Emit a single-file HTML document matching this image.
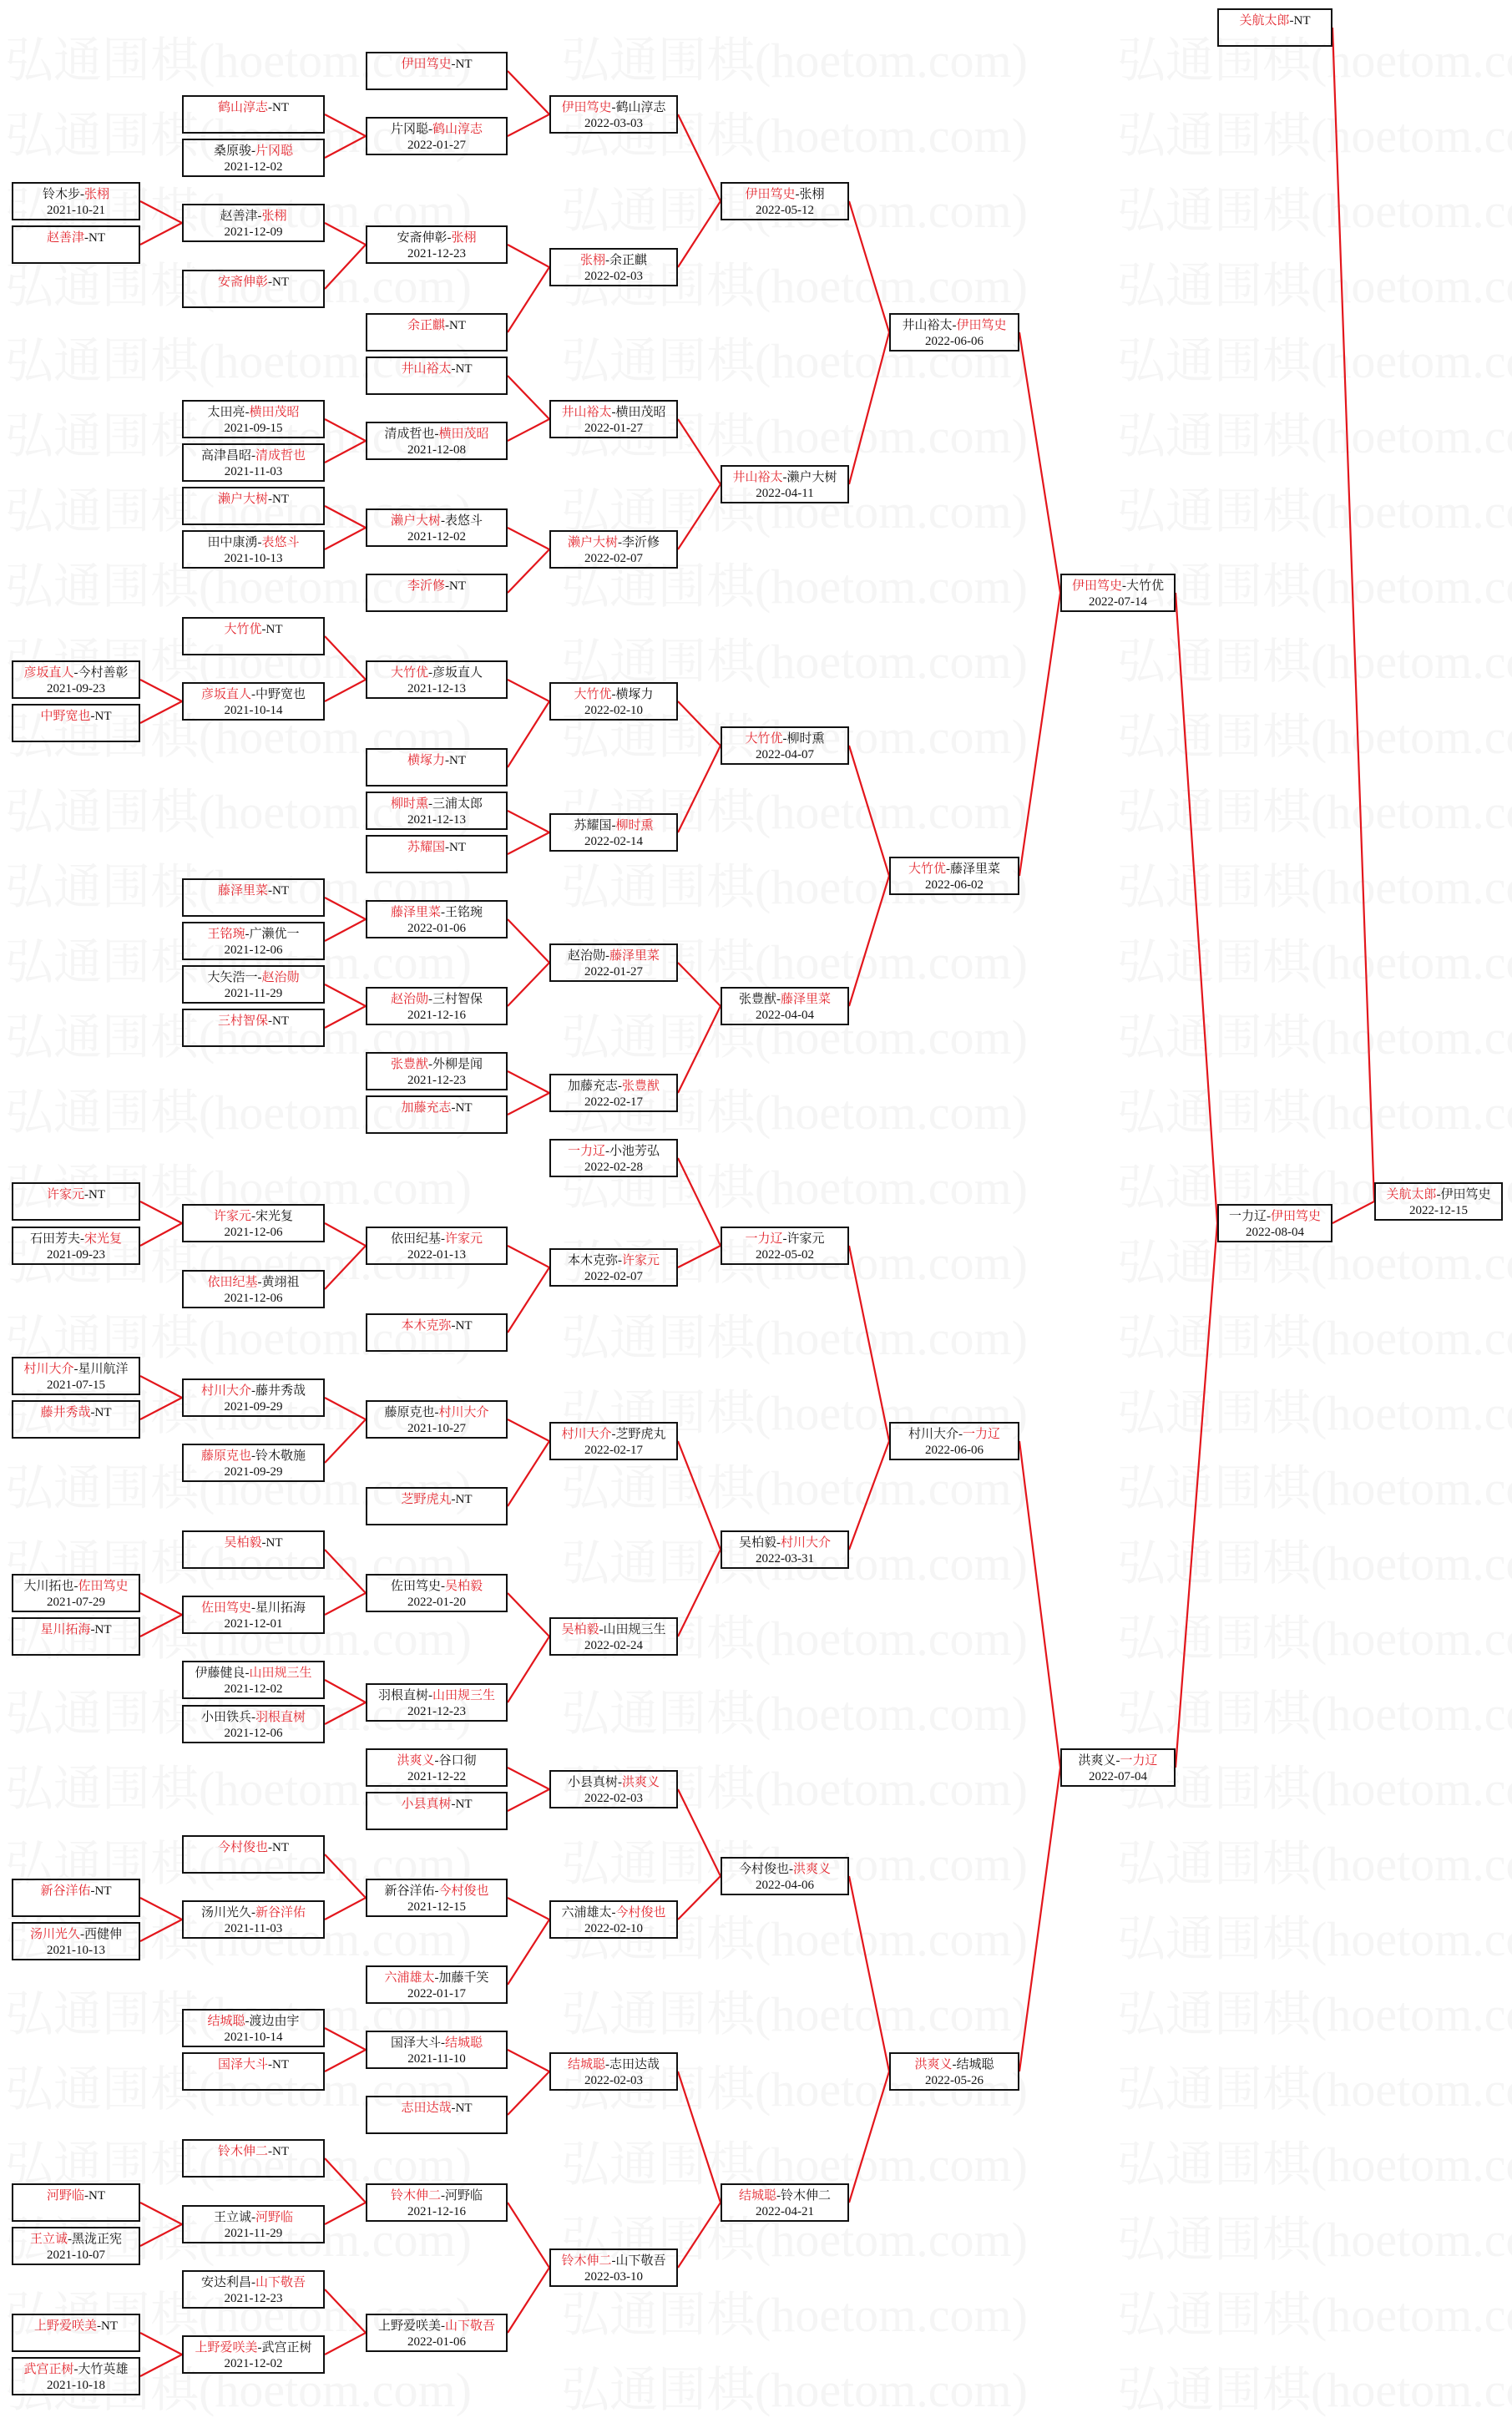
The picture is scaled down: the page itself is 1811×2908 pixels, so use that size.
<!DOCTYPE html>
<html><head><meta charset="utf-8">
<style>
html,body{margin:0;padding:0;background:#fff;}
body{width:1811px;height:2873px;position:relative;overflow:hidden;font-family:"Liberation Serif","Noto Serif CJK SC",serif;}
#wm{position:absolute;left:6px;top:28px;color:#f5f5f5;font-size:58px;line-height:90px;white-space:nowrap;font-family:"Liberation Serif","Noto Serif CJK SC",serif;}
#wm span{display:inline-block;width:666px;}
svg{position:absolute;left:0;top:0;}
.b{position:absolute;height:42px;border:2px solid #111;box-sizing:content-box;background:transparent;text-align:center;font-size:15px;line-height:19px;padding-top:0;color:#111;}
.b div{padding-top:4px;}
.r{color:#e3262e;}
.c0{left:14px;width:150px}
.c1{left:218px;width:167px}
.c2{left:438px;width:166px}
.c3{left:658px;width:150px}
.c4{left:863px;width:150px}
.c5{left:1065px;width:152px}
.c6{left:1270px;width:134px}
.c7{left:1458px;width:134px}
.c8{left:1646px;width:150px}
</style></head><body>
<div id="wm">
<span>弘通围棋(hoetom.com)</span><span>弘通围棋(hoetom.com)</span><span>弘通围棋(hoetom.com)</span><br>
<span>弘通围棋(hoetom.com)</span><span>弘通围棋(hoetom.com)</span><span>弘通围棋(hoetom.com)</span><br>
<span>弘通围棋(hoetom.com)</span><span>弘通围棋(hoetom.com)</span><span>弘通围棋(hoetom.com)</span><br>
<span>弘通围棋(hoetom.com)</span><span>弘通围棋(hoetom.com)</span><span>弘通围棋(hoetom.com)</span><br>
<span>弘通围棋(hoetom.com)</span><span>弘通围棋(hoetom.com)</span><span>弘通围棋(hoetom.com)</span><br>
<span>弘通围棋(hoetom.com)</span><span>弘通围棋(hoetom.com)</span><span>弘通围棋(hoetom.com)</span><br>
<span>弘通围棋(hoetom.com)</span><span>弘通围棋(hoetom.com)</span><span>弘通围棋(hoetom.com)</span><br>
<span>弘通围棋(hoetom.com)</span><span>弘通围棋(hoetom.com)</span><span>弘通围棋(hoetom.com)</span><br>
<span>弘通围棋(hoetom.com)</span><span>弘通围棋(hoetom.com)</span><span>弘通围棋(hoetom.com)</span><br>
<span>弘通围棋(hoetom.com)</span><span>弘通围棋(hoetom.com)</span><span>弘通围棋(hoetom.com)</span><br>
<span>弘通围棋(hoetom.com)</span><span>弘通围棋(hoetom.com)</span><span>弘通围棋(hoetom.com)</span><br>
<span>弘通围棋(hoetom.com)</span><span>弘通围棋(hoetom.com)</span><span>弘通围棋(hoetom.com)</span><br>
<span>弘通围棋(hoetom.com)</span><span>弘通围棋(hoetom.com)</span><span>弘通围棋(hoetom.com)</span><br>
<span>弘通围棋(hoetom.com)</span><span>弘通围棋(hoetom.com)</span><span>弘通围棋(hoetom.com)</span><br>
<span>弘通围棋(hoetom.com)</span><span>弘通围棋(hoetom.com)</span><span>弘通围棋(hoetom.com)</span><br>
<span>弘通围棋(hoetom.com)</span><span>弘通围棋(hoetom.com)</span><span>弘通围棋(hoetom.com)</span><br>
<span>弘通围棋(hoetom.com)</span><span>弘通围棋(hoetom.com)</span><span>弘通围棋(hoetom.com)</span><br>
<span>弘通围棋(hoetom.com)</span><span>弘通围棋(hoetom.com)</span><span>弘通围棋(hoetom.com)</span><br>
<span>弘通围棋(hoetom.com)</span><span>弘通围棋(hoetom.com)</span><span>弘通围棋(hoetom.com)</span><br>
<span>弘通围棋(hoetom.com)</span><span>弘通围棋(hoetom.com)</span><span>弘通围棋(hoetom.com)</span><br>
<span>弘通围棋(hoetom.com)</span><span>弘通围棋(hoetom.com)</span><span>弘通围棋(hoetom.com)</span><br>
<span>弘通围棋(hoetom.com)</span><span>弘通围棋(hoetom.com)</span><span>弘通围棋(hoetom.com)</span><br>
<span>弘通围棋(hoetom.com)</span><span>弘通围棋(hoetom.com)</span><span>弘通围棋(hoetom.com)</span><br>
<span>弘通围棋(hoetom.com)</span><span>弘通围棋(hoetom.com)</span><span>弘通围棋(hoetom.com)</span><br>
<span>弘通围棋(hoetom.com)</span><span>弘通围棋(hoetom.com)</span><span>弘通围棋(hoetom.com)</span><br>
<span>弘通围棋(hoetom.com)</span><span>弘通围棋(hoetom.com)</span><span>弘通围棋(hoetom.com)</span><br>
<span>弘通围棋(hoetom.com)</span><span>弘通围棋(hoetom.com)</span><span>弘通围棋(hoetom.com)</span><br>
<span>弘通围棋(hoetom.com)</span><span>弘通围棋(hoetom.com)</span><span>弘通围棋(hoetom.com)</span><br>
<span>弘通围棋(hoetom.com)</span><span>弘通围棋(hoetom.com)</span><span>弘通围棋(hoetom.com)</span><br>
<span>弘通围棋(hoetom.com)</span><span>弘通围棋(hoetom.com)</span><span>弘通围棋(hoetom.com)</span><br>
<span>弘通围棋(hoetom.com)</span><span>弘通围棋(hoetom.com)</span><span>弘通围棋(hoetom.com)</span><br>
<span>弘通围棋(hoetom.com)</span><span>弘通围棋(hoetom.com)</span><span>弘通围棋(hoetom.com)</span><br>
</div>

<svg width="1811" height="2873" stroke="#e3161c" stroke-width="2.2" fill="none">
<path d="M168 241L218 267L168 293M168 814L218 840L168 866M168 1439L218 1465L168 1492M168 1648L218 1674L168 1700M168 1908L218 1934L168 1960M168 2273L218 2299L168 2325M168 2638L218 2664L168 2690M168 2794L218 2820L168 2846"/>
<path d="M389 137L438 163L389 189M389 267L438 293L389 346M389 502L438 528L389 554M389 606L438 632L389 658M389 762L438 814L389 840M389 1075L438 1101L389 1127M389 1179L438 1205L389 1231M389 1465L438 1492L389 1544M389 1674L438 1700L389 1752M389 1856L438 1908L389 1934M389 2012L438 2039L389 2065M389 2221L438 2273L389 2299M389 2429L438 2455L389 2481M389 2585L438 2638L389 2664M389 2742L438 2794L389 2820"/>
<path d="M608 85L658 137L608 163M608 293L658 320L608 398M608 450L658 502L608 528M608 632L658 658L608 710M608 814L658 840L608 919M608 971L658 997L608 1023M608 1101L658 1153L608 1205M608 1283L658 1309L608 1335M608 1492L658 1518L608 1596M608 1700L658 1726L608 1804M608 1908L658 1960L608 2039M608 2117L658 2143L608 2169M608 2273L658 2299L608 2377M608 2455L658 2481L608 2533M608 2638L658 2716L608 2794"/>
<path d="M812 137L863 241L812 320M812 502L863 580L812 658M812 840L863 893L812 997M812 1153L863 1205L812 1309M812 1387L863 1492L812 1518M812 1726L863 1856L812 1960M812 2143L863 2247L812 2299M812 2481L863 2638L812 2716"/>
<path d="M1017 241L1065 398L1017 580M1017 893L1065 1049L1017 1205M1017 1492L1065 1726L1017 1856M1017 2247L1065 2481L1017 2638"/>
<path d="M1221 398L1270 710L1221 1049M1221 1726L1270 2117L1221 2481"/>
<path d="M1408 710L1458 1465L1408 2117"/>
<path d="M1596 33L1646 1439L1596 1465"/>
</svg>

<div class="b c0" style="top:218px"><div>铃木步-<span class="r">张栩</span><br>2021-10-21</div></div>
<div class="b c0" style="top:270px"><div><span class="r">赵善津</span>-NT</div></div>
<div class="b c0" style="top:791px"><div><span class="r">彦坂直人</span>-今村善彰<br>2021-09-23</div></div>
<div class="b c0" style="top:843px"><div><span class="r">中野宽也</span>-NT</div></div>
<div class="b c0" style="top:1416px"><div><span class="r">许家元</span>-NT</div></div>
<div class="b c0" style="top:1469px"><div>石田芳夫-<span class="r">宋光复</span><br>2021-09-23</div></div>
<div class="b c0" style="top:1625px"><div><span class="r">村川大介</span>-星川航洋<br>2021-07-15</div></div>
<div class="b c0" style="top:1677px"><div><span class="r">藤井秀哉</span>-NT</div></div>
<div class="b c0" style="top:1885px"><div>大川拓也-<span class="r">佐田笃史</span><br>2021-07-29</div></div>
<div class="b c0" style="top:1937px"><div><span class="r">星川拓海</span>-NT</div></div>
<div class="b c0" style="top:2250px"><div><span class="r">新谷洋佑</span>-NT</div></div>
<div class="b c0" style="top:2302px"><div><span class="r">汤川光久</span>-西健伸<br>2021-10-13</div></div>
<div class="b c0" style="top:2615px"><div><span class="r">河野临</span>-NT</div></div>
<div class="b c0" style="top:2667px"><div><span class="r">王立诚</span>-黑泷正宪<br>2021-10-07</div></div>
<div class="b c0" style="top:2771px"><div><span class="r">上野爱咲美</span>-NT</div></div>
<div class="b c0" style="top:2823px"><div><span class="r">武宫正树</span>-大竹英雄<br>2021-10-18</div></div>

<div class="b c1" style="top:114px"><div><span class="r">鹤山淳志</span>-NT</div></div>
<div class="b c1" style="top:166px"><div>桑原骏-<span class="r">片冈聪</span><br>2021-12-02</div></div>
<div class="b c1" style="top:244px"><div>赵善津-<span class="r">张栩</span><br>2021-12-09</div></div>
<div class="b c1" style="top:323px"><div><span class="r">安斋伸彰</span>-NT</div></div>
<div class="b c1" style="top:479px"><div>太田亮-<span class="r">横田茂昭</span><br>2021-09-15</div></div>
<div class="b c1" style="top:531px"><div>高津昌昭-<span class="r">清成哲也</span><br>2021-11-03</div></div>
<div class="b c1" style="top:583px"><div><span class="r">濑户大树</span>-NT</div></div>
<div class="b c1" style="top:635px"><div>田中康湧-<span class="r">表悠斗</span><br>2021-10-13</div></div>
<div class="b c1" style="top:739px"><div><span class="r">大竹优</span>-NT</div></div>
<div class="b c1" style="top:817px"><div><span class="r">彦坂直人</span>-中野宽也<br>2021-10-14</div></div>
<div class="b c1" style="top:1052px"><div><span class="r">藤泽里菜</span>-NT</div></div>
<div class="b c1" style="top:1104px"><div><span class="r">王铭琬</span>-广濑优一<br>2021-12-06</div></div>
<div class="b c1" style="top:1156px"><div>大矢浩一-<span class="r">赵治勋</span><br>2021-11-29</div></div>
<div class="b c1" style="top:1208px"><div><span class="r">三村智保</span>-NT</div></div>
<div class="b c1" style="top:1442px"><div><span class="r">许家元</span>-宋光复<br>2021-12-06</div></div>
<div class="b c1" style="top:1521px"><div><span class="r">依田纪基</span>-黄翊祖<br>2021-12-06</div></div>
<div class="b c1" style="top:1651px"><div><span class="r">村川大介</span>-藤井秀哉<br>2021-09-29</div></div>
<div class="b c1" style="top:1729px"><div><span class="r">藤原克也</span>-铃木敬施<br>2021-09-29</div></div>
<div class="b c1" style="top:1833px"><div><span class="r">吴柏毅</span>-NT</div></div>
<div class="b c1" style="top:1911px"><div><span class="r">佐田笃史</span>-星川拓海<br>2021-12-01</div></div>
<div class="b c1" style="top:1989px"><div>伊藤健良-<span class="r">山田规三生</span><br>2021-12-02</div></div>
<div class="b c1" style="top:2042px"><div>小田铁兵-<span class="r">羽根直树</span><br>2021-12-06</div></div>
<div class="b c1" style="top:2198px"><div><span class="r">今村俊也</span>-NT</div></div>
<div class="b c1" style="top:2276px"><div>汤川光久-<span class="r">新谷洋佑</span><br>2021-11-03</div></div>
<div class="b c1" style="top:2406px"><div><span class="r">结城聪</span>-渡边由宇<br>2021-10-14</div></div>
<div class="b c1" style="top:2458px"><div><span class="r">国泽大斗</span>-NT</div></div>
<div class="b c1" style="top:2562px"><div><span class="r">铃木伸二</span>-NT</div></div>
<div class="b c1" style="top:2641px"><div>王立诚-<span class="r">河野临</span><br>2021-11-29</div></div>
<div class="b c1" style="top:2719px"><div>安达利昌-<span class="r">山下敬吾</span><br>2021-12-23</div></div>
<div class="b c1" style="top:2797px"><div><span class="r">上野爱咲美</span>-武宫正树<br>2021-12-02</div></div>

<div class="b c2" style="top:62px"><div><span class="r">伊田笃史</span>-NT</div></div>
<div class="b c2" style="top:140px"><div>片冈聪-<span class="r">鹤山淳志</span><br>2022-01-27</div></div>
<div class="b c2" style="top:270px"><div>安斋伸彰-<span class="r">张栩</span><br>2021-12-23</div></div>
<div class="b c2" style="top:375px"><div><span class="r">余正麒</span>-NT</div></div>
<div class="b c2" style="top:427px"><div><span class="r">井山裕太</span>-NT</div></div>
<div class="b c2" style="top:505px"><div>清成哲也-<span class="r">横田茂昭</span><br>2021-12-08</div></div>
<div class="b c2" style="top:609px"><div><span class="r">濑户大树</span>-表悠斗<br>2021-12-02</div></div>
<div class="b c2" style="top:687px"><div><span class="r">李沂修</span>-NT</div></div>
<div class="b c2" style="top:791px"><div><span class="r">大竹优</span>-彦坂直人<br>2021-12-13</div></div>
<div class="b c2" style="top:896px"><div><span class="r">横塚力</span>-NT</div></div>
<div class="b c2" style="top:948px"><div><span class="r">柳时熏</span>-三浦太郎<br>2021-12-13</div></div>
<div class="b c2" style="top:1000px"><div><span class="r">苏耀国</span>-NT</div></div>
<div class="b c2" style="top:1078px"><div><span class="r">藤泽里菜</span>-王铭琬<br>2022-01-06</div></div>
<div class="b c2" style="top:1182px"><div><span class="r">赵治勋</span>-三村智保<br>2021-12-16</div></div>
<div class="b c2" style="top:1260px"><div><span class="r">张豊猷</span>-外柳是闻<br>2021-12-23</div></div>
<div class="b c2" style="top:1312px"><div><span class="r">加藤充志</span>-NT</div></div>
<div class="b c2" style="top:1469px"><div>依田纪基-<span class="r">许家元</span><br>2022-01-13</div></div>
<div class="b c2" style="top:1573px"><div><span class="r">本木克弥</span>-NT</div></div>
<div class="b c2" style="top:1677px"><div>藤原克也-<span class="r">村川大介</span><br>2021-10-27</div></div>
<div class="b c2" style="top:1781px"><div><span class="r">芝野虎丸</span>-NT</div></div>
<div class="b c2" style="top:1885px"><div>佐田笃史-<span class="r">吴柏毅</span><br>2022-01-20</div></div>
<div class="b c2" style="top:2016px"><div>羽根直树-<span class="r">山田规三生</span><br>2021-12-23</div></div>
<div class="b c2" style="top:2094px"><div><span class="r">洪爽义</span>-谷口彻<br>2021-12-22</div></div>
<div class="b c2" style="top:2146px"><div><span class="r">小县真树</span>-NT</div></div>
<div class="b c2" style="top:2250px"><div>新谷洋佑-<span class="r">今村俊也</span><br>2021-12-15</div></div>
<div class="b c2" style="top:2354px"><div><span class="r">六浦雄太</span>-加藤千笑<br>2022-01-17</div></div>
<div class="b c2" style="top:2432px"><div>国泽大斗-<span class="r">结城聪</span><br>2021-11-10</div></div>
<div class="b c2" style="top:2510px"><div><span class="r">志田达哉</span>-NT</div></div>
<div class="b c2" style="top:2615px"><div><span class="r">铃木伸二</span>-河野临<br>2021-12-16</div></div>
<div class="b c2" style="top:2771px"><div>上野爱咲美-<span class="r">山下敬吾</span><br>2022-01-06</div></div>

<div class="b c3" style="top:114px"><div><span class="r">伊田笃史</span>-鹤山淳志<br>2022-03-03</div></div>
<div class="b c3" style="top:297px"><div><span class="r">张栩</span>-余正麒<br>2022-02-03</div></div>
<div class="b c3" style="top:479px"><div><span class="r">井山裕太</span>-横田茂昭<br>2022-01-27</div></div>
<div class="b c3" style="top:635px"><div><span class="r">濑户大树</span>-李沂修<br>2022-02-07</div></div>
<div class="b c3" style="top:817px"><div><span class="r">大竹优</span>-横塚力<br>2022-02-10</div></div>
<div class="b c3" style="top:974px"><div>苏耀国-<span class="r">柳时熏</span><br>2022-02-14</div></div>
<div class="b c3" style="top:1130px"><div>赵治勋-<span class="r">藤泽里菜</span><br>2022-01-27</div></div>
<div class="b c3" style="top:1286px"><div>加藤充志-<span class="r">张豊猷</span><br>2022-02-17</div></div>
<div class="b c3" style="top:1364px"><div><span class="r">一力辽</span>-小池芳弘<br>2022-02-28</div></div>
<div class="b c3" style="top:1495px"><div>本木克弥-<span class="r">许家元</span><br>2022-02-07</div></div>
<div class="b c3" style="top:1703px"><div><span class="r">村川大介</span>-芝野虎丸<br>2022-02-17</div></div>
<div class="b c3" style="top:1937px"><div><span class="r">吴柏毅</span>-山田规三生<br>2022-02-24</div></div>
<div class="b c3" style="top:2120px"><div>小县真树-<span class="r">洪爽义</span><br>2022-02-03</div></div>
<div class="b c3" style="top:2276px"><div>六浦雄太-<span class="r">今村俊也</span><br>2022-02-10</div></div>
<div class="b c3" style="top:2458px"><div><span class="r">结城聪</span>-志田达哉<br>2022-02-03</div></div>
<div class="b c3" style="top:2693px"><div><span class="r">铃木伸二</span>-山下敬吾<br>2022-03-10</div></div>

<div class="b c4" style="top:218px"><div><span class="r">伊田笃史</span>-张栩<br>2022-05-12</div></div>
<div class="b c4" style="top:557px"><div><span class="r">井山裕太</span>-濑户大树<br>2022-04-11</div></div>
<div class="b c4" style="top:870px"><div><span class="r">大竹优</span>-柳时熏<br>2022-04-07</div></div>
<div class="b c4" style="top:1182px"><div>张豊猷-<span class="r">藤泽里菜</span><br>2022-04-04</div></div>
<div class="b c4" style="top:1469px"><div><span class="r">一力辽</span>-许家元<br>2022-05-02</div></div>
<div class="b c4" style="top:1833px"><div>吴柏毅-<span class="r">村川大介</span><br>2022-03-31</div></div>
<div class="b c4" style="top:2224px"><div>今村俊也-<span class="r">洪爽义</span><br>2022-04-06</div></div>
<div class="b c4" style="top:2615px"><div><span class="r">结城聪</span>-铃木伸二<br>2022-04-21</div></div>

<div class="b c5" style="top:375px"><div>井山裕太-<span class="r">伊田笃史</span><br>2022-06-06</div></div>
<div class="b c5" style="top:1026px"><div><span class="r">大竹优</span>-藤泽里菜<br>2022-06-02</div></div>
<div class="b c5" style="top:1703px"><div>村川大介-<span class="r">一力辽</span><br>2022-06-06</div></div>
<div class="b c5" style="top:2458px"><div><span class="r">洪爽义</span>-结城聪<br>2022-05-26</div></div>

<div class="b c6" style="top:687px"><div><span class="r">伊田笃史</span>-大竹优<br>2022-07-14</div></div>
<div class="b c6" style="top:2094px"><div>洪爽义-<span class="r">一力辽</span><br>2022-07-04</div></div>

<div class="b c7" style="top:10px"><div><span class="r">关航太郎</span>-NT</div></div>
<div class="b c7" style="top:1442px"><div>一力辽-<span class="r">伊田笃史</span><br>2022-08-04</div></div>

<div class="b c8" style="top:1416px"><div><span class="r">关航太郎</span>-伊田笃史<br>2022-12-15</div></div>
</body></html>
